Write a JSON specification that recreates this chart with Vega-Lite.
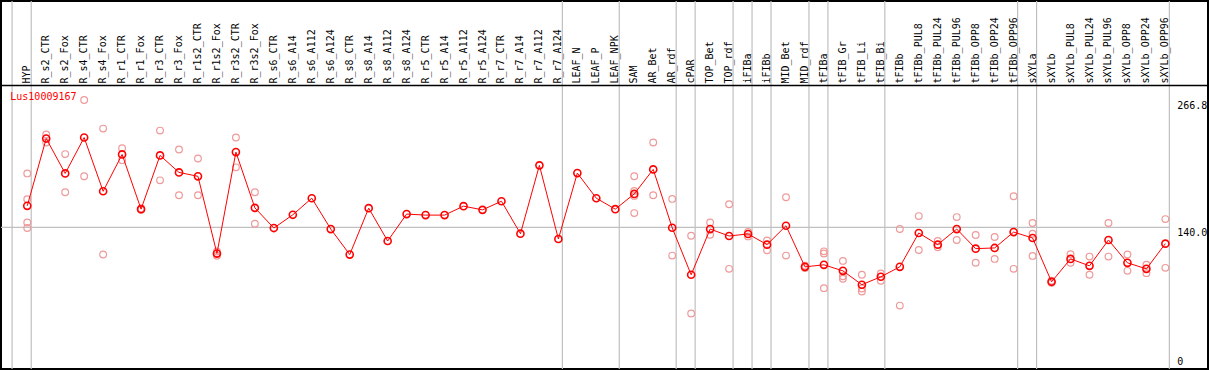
{
  "$schema": "https://vega.github.io/schema/vega-lite/v6.json",
  "width": 1209,
  "height": 370,
  "autosize": {"type": "fit", "contains": "padding"},
  "padding": 0,
  "background": "white",
  "config": {
    "view": {"stroke": "black", "strokeWidth": 2},
    "axis": {"disable": true},
    "font": "DejaVu Sans Mono"
  },
  "datasets": {
    "means": [
      {"i": 0, "name": "HYP", "v": 161.4},
      {"i": 1, "name": "R_s2_CTR", "v": 228.4},
      {"i": 2, "name": "R_s2_Fox", "v": 193.7},
      {"i": 3, "name": "R_s4_CTR", "v": 229.4},
      {"i": 4, "name": "R_s4_Fox", "v": 175.9},
      {"i": 5, "name": "R_r1_CTR", "v": 212.6},
      {"i": 6, "name": "R_r1_Fox", "v": 158.1},
      {"i": 7, "name": "R_r3_CTR", "v": 211.6},
      {"i": 8, "name": "R_r3_Fox", "v": 194.7},
      {"i": 9, "name": "R_r1s2_CTR", "v": 190.8},
      {"i": 10, "name": "R_r1s2_Fox", "v": 113.9},
      {"i": 11, "name": "R_r3s2_CTR", "v": 214.9},
      {"i": 12, "name": "R_r3s2_Fox", "v": 159.4},
      {"i": 13, "name": "R_s6_CTR", "v": 139.3},
      {"i": 14, "name": "R_s6_A14", "v": 152.5},
      {"i": 15, "name": "R_s6_A112", "v": 169.0},
      {"i": 16, "name": "R_s6_A124", "v": 138.3},
      {"i": 17, "name": "R_s8_CTR", "v": 112.9},
      {"i": 18, "name": "R_s8_A14", "v": 159.1},
      {"i": 19, "name": "R_s8_A112", "v": 126.4},
      {"i": 20, "name": "R_s8_A124", "v": 153.2},
      {"i": 21, "name": "R_r5_CTR", "v": 152.2},
      {"i": 22, "name": "R_r5_A14", "v": 152.2},
      {"i": 23, "name": "R_r5_A112", "v": 161.1},
      {"i": 24, "name": "R_r5_A124", "v": 157.4},
      {"i": 25, "name": "R_r7_CTR", "v": 166.0},
      {"i": 26, "name": "R_r7_A14", "v": 133.7},
      {"i": 27, "name": "R_r7_A112", "v": 201.7},
      {"i": 28, "name": "R_r7_A124", "v": 128.4},
      {"i": 29, "name": "LEAF_N", "v": 194.0},
      {"i": 30, "name": "LEAF_P", "v": 169.0},
      {"i": 31, "name": "LEAF_NPK", "v": 158.1},
      {"i": 32, "name": "SAM", "v": 173.3},
      {"i": 33, "name": "AR_Bet", "v": 197.7},
      {"i": 34, "name": "AR_rdf", "v": 139.6},
      {"i": 35, "name": "cPAR", "v": 92.8},
      {"i": 36, "name": "TOP_Bet", "v": 138.3},
      {"i": 37, "name": "TOP_rdf", "v": 131.4},
      {"i": 38, "name": "iFIBa", "v": 133.4},
      {"i": 39, "name": "iFIBb", "v": 122.8},
      {"i": 40, "name": "MID_Bet", "v": 141.6},
      {"i": 41, "name": "MID_rdf", "v": 100.7},
      {"i": 42, "name": "tFIBa", "v": 102.7},
      {"i": 43, "name": "tFIB_Gr", "v": 96.7},
      {"i": 44, "name": "tFIB_Li", "v": 82.9},
      {"i": 45, "name": "tFIB_Bi", "v": 90.8},
      {"i": 46, "name": "tFIBb", "v": 100.7},
      {"i": 47, "name": "tFIBb_PUL8", "v": 134.4},
      {"i": 48, "name": "tFIBb_PUL24", "v": 122.8},
      {"i": 49, "name": "tFIBb_PUL96", "v": 138.3},
      {"i": 50, "name": "tFIBb_OPP8", "v": 118.8},
      {"i": 51, "name": "tFIBb_OPP24", "v": 119.5},
      {"i": 52, "name": "tFIBb_OPP96", "v": 135.3},
      {"i": 53, "name": "sXYLa", "v": 129.4},
      {"i": 54, "name": "sXYLb", "v": 85.8},
      {"i": 55, "name": "sXYLb_PUL8", "v": 108.6},
      {"i": 56, "name": "sXYLb_PUL24", "v": 101.7},
      {"i": 57, "name": "sXYLb_PUL96", "v": 127.4},
      {"i": 58, "name": "sXYLb_OPP8", "v": 104.7},
      {"i": 59, "name": "sXYLb_OPP24", "v": 98.7},
      {"i": 60, "name": "sXYLb_OPP96", "v": 123.8}
    ],
    "reps": [
      {"i": 0, "v": 193.7}, {"i": 0, "v": 168.0}, {"i": 0, "v": 144.9}, {"i": 0, "v": 139.3},
      {"i": 1, "v": 232.4}, {"i": 1, "v": 224.5},
      {"i": 2, "v": 212.9}, {"i": 2, "v": 175.0},
      {"i": 3, "v": 266.8}, {"i": 3, "v": 190.8},
      {"i": 4, "v": 238.3}, {"i": 4, "v": 112.9},
      {"i": 5, "v": 218.8}, {"i": 5, "v": 206.9},
      {"i": 6, "v": 158.8}, {"i": 6, "v": 157.4},
      {"i": 7, "v": 236.3}, {"i": 7, "v": 186.8},
      {"i": 8, "v": 217.5}, {"i": 8, "v": 172.0},
      {"i": 9, "v": 208.6}, {"i": 9, "v": 172.0},
      {"i": 10, "v": 116.0}, {"i": 10, "v": 111.8},
      {"i": 11, "v": 229.4}, {"i": 11, "v": 199.7},
      {"i": 12, "v": 175.0}, {"i": 12, "v": 143.6},
      {"i": 32, "v": 190.8}, {"i": 32, "v": 176.2}, {"i": 32, "v": 171.3}, {"i": 32, "v": 154.2},
      {"i": 33, "v": 224.5}, {"i": 33, "v": 172.0},
      {"i": 34, "v": 168.3}, {"i": 34, "v": 111.9},
      {"i": 35, "v": 131.7}, {"i": 35, "v": 54.2},
      {"i": 36, "v": 144.9}, {"i": 36, "v": 132.7},
      {"i": 37, "v": 163.0}, {"i": 37, "v": 98.7},
      {"i": 38, "v": 135.3}, {"i": 38, "v": 131.0},
      {"i": 39, "v": 127.0}, {"i": 39, "v": 117.1},
      {"i": 40, "v": 170.0}, {"i": 40, "v": 111.9},
      {"i": 41, "v": 101.8}, {"i": 41, "v": 99.6},
      {"i": 42, "v": 116.1}, {"i": 42, "v": 113.9}, {"i": 42, "v": 79.5},
      {"i": 43, "v": 106.6}, {"i": 43, "v": 91.4}, {"i": 43, "v": 88.8},
      {"i": 44, "v": 92.8}, {"i": 44, "v": 79.2}, {"i": 44, "v": 76.2},
      {"i": 45, "v": 94.1}, {"i": 45, "v": 86.8},
      {"i": 46, "v": 138.3}, {"i": 46, "v": 62.1},
      {"i": 47, "v": 151.2}, {"i": 47, "v": 117.5},
      {"i": 48, "v": 126.4}, {"i": 48, "v": 120.1},
      {"i": 49, "v": 150.2}, {"i": 49, "v": 127.4},
      {"i": 50, "v": 132.4}, {"i": 50, "v": 104.7},
      {"i": 51, "v": 130.4}, {"i": 51, "v": 108.6},
      {"i": 52, "v": 171.0}, {"i": 52, "v": 98.7},
      {"i": 53, "v": 144.3}, {"i": 53, "v": 133.7}, {"i": 53, "v": 111.6},
      {"i": 54, "v": 86.8}, {"i": 54, "v": 84.8},
      {"i": 55, "v": 113.2}, {"i": 55, "v": 104.7},
      {"i": 56, "v": 110.9}, {"i": 56, "v": 92.8},
      {"i": 57, "v": 144.3}, {"i": 57, "v": 110.9},
      {"i": 58, "v": 112.9}, {"i": 58, "v": 96.7},
      {"i": 59, "v": 102.7}, {"i": 59, "v": 94.4},
      {"i": 60, "v": 148.2}, {"i": 60, "v": 99.7}
    ],
    "seps": [
      {"b": -0.8}, {"b": 0.21}, {"b": 28.21}, {"b": 31.21}, {"b": 34.21},
      {"b": 35.21}, {"b": 37.21}, {"b": 38.21}, {"b": 39.21}, {"b": 41.21},
      {"b": 42.21}, {"b": 45.21}, {"b": 52.21}, {"b": 53.21}, {"b": 60.21}
    ],
    "ylabels": [
      {"v": 266.8, "t": "266.8"},
      {"v": 140, "t": "140.0"}
    ],
    "zerolabel": [
      {"v": 0, "t": "0"}
    ],
    "gene": [
      {"t": "Lus10009167"}
    ]
  },
  "layer": [
    {
      "data": {"name": "seps"},
      "mark": {"type": "rule", "color": "#c0c0c0", "strokeWidth": 1.2},
      "encoding": {
        "x": {"field": "b", "type": "quantitative", "scale": {"domain": [-1.384, 62.247], "nice": false, "zero": false}, "axis": null}
      }
    },
    {
      "data": {"values": [{}]},
      "mark": {"type": "rule", "color": "#c0c0c0", "strokeWidth": 1.2},
      "encoding": {
        "x": {"datum": -1.384, "type": "quantitative", "scale": {"domain": [-1.384, 62.247], "nice": false, "zero": false}, "axis": null},
        "x2": {"datum": 60.21},
        "y": {"datum": 140, "type": "quantitative", "scale": {"domain": [-0.99, 365.3], "nice": false, "zero": false}, "axis": null}
      }
    },
    {
      "data": {"values": [{}]},
      "mark": {"type": "rule", "color": "black", "strokeWidth": 1.5},
      "encoding": {
        "y": {"datum": 281.2, "type": "quantitative", "scale": {"domain": [-0.99, 365.3], "nice": false, "zero": false}, "axis": null}
      }
    },
    {
      "data": {"name": "reps"},
      "mark": {"type": "point", "shape": "circle", "filled": false, "color": "#ef9a9a", "strokeWidth": 1.2, "size": 45, "opacity": 1},
      "encoding": {
        "x": {"field": "i", "type": "quantitative", "scale": {"domain": [-1.384, 62.247], "nice": false, "zero": false}, "axis": null},
        "y": {"field": "v", "type": "quantitative", "scale": {"domain": [-0.99, 365.3], "nice": false, "zero": false}, "axis": null}
      }
    },
    {
      "data": {"name": "means"},
      "mark": {"type": "line", "color": "#ff0000", "strokeWidth": 1},
      "encoding": {
        "x": {"field": "i", "type": "quantitative", "scale": {"domain": [-1.384, 62.247], "nice": false, "zero": false}, "axis": null},
        "y": {"field": "v", "type": "quantitative", "scale": {"domain": [-0.99, 365.3], "nice": false, "zero": false}, "axis": null}
      }
    },
    {
      "data": {"name": "means"},
      "mark": {"type": "point", "shape": "circle", "filled": false, "color": "#ff0000", "strokeWidth": 1.6, "size": 50, "opacity": 1},
      "encoding": {
        "x": {"field": "i", "type": "quantitative", "scale": {"domain": [-1.384, 62.247], "nice": false, "zero": false}, "axis": null},
        "y": {"field": "v", "type": "quantitative", "scale": {"domain": [-0.99, 365.3], "nice": false, "zero": false}, "axis": null}
      }
    },
    {
      "data": {"name": "means"},
      "mark": {"type": "text", "angle": 270, "align": "left", "baseline": "middle", "fontSize": 10, "font": "DejaVu Sans Mono", "color": "black"},
      "encoding": {
        "x": {"field": "i", "type": "quantitative", "scale": {"domain": [-1.384, 62.247], "nice": false, "zero": false}, "axis": null},
        "y": {"datum": 283.2, "type": "quantitative", "scale": {"domain": [-0.99, 365.3], "nice": false, "zero": false}, "axis": null},
        "text": {"field": "name"}
      }
    },
    {
      "data": {"name": "ylabels"},
      "mark": {"type": "text", "align": "left", "baseline": "top", "fontSize": 10, "font": "DejaVu Sans Mono", "color": "black", "dy": 1},
      "encoding": {
        "x": {"datum": 60.62, "type": "quantitative", "scale": {"domain": [-1.384, 62.247], "nice": false, "zero": false}, "axis": null},
        "y": {"field": "v", "type": "quantitative", "scale": {"domain": [-0.99, 365.3], "nice": false, "zero": false}, "axis": null},
        "text": {"field": "t"}
      }
    },
    {
      "data": {"name": "zerolabel"},
      "mark": {"type": "text", "align": "left", "baseline": "bottom", "fontSize": 10, "font": "DejaVu Sans Mono", "color": "black", "dy": -1},
      "encoding": {
        "x": {"datum": 60.62, "type": "quantitative", "scale": {"domain": [-1.384, 62.247], "nice": false, "zero": false}, "axis": null},
        "y": {"field": "v", "type": "quantitative", "scale": {"domain": [-0.99, 365.3], "nice": false, "zero": false}, "axis": null},
        "text": {"field": "t"}
      }
    },
    {
      "data": {"name": "gene"},
      "mark": {"type": "text", "align": "left", "baseline": "middle", "fontSize": 10, "font": "DejaVu Sans Mono", "color": "#ff0000"},
      "encoding": {
        "x": {"datum": -0.895, "type": "quantitative", "scale": {"domain": [-1.384, 62.247], "nice": false, "zero": false}, "axis": null},
        "y": {"datum": 269.6, "type": "quantitative", "scale": {"domain": [-0.99, 365.3], "nice": false, "zero": false}, "axis": null},
        "text": {"field": "t"}
      }
    }
  ]
}
